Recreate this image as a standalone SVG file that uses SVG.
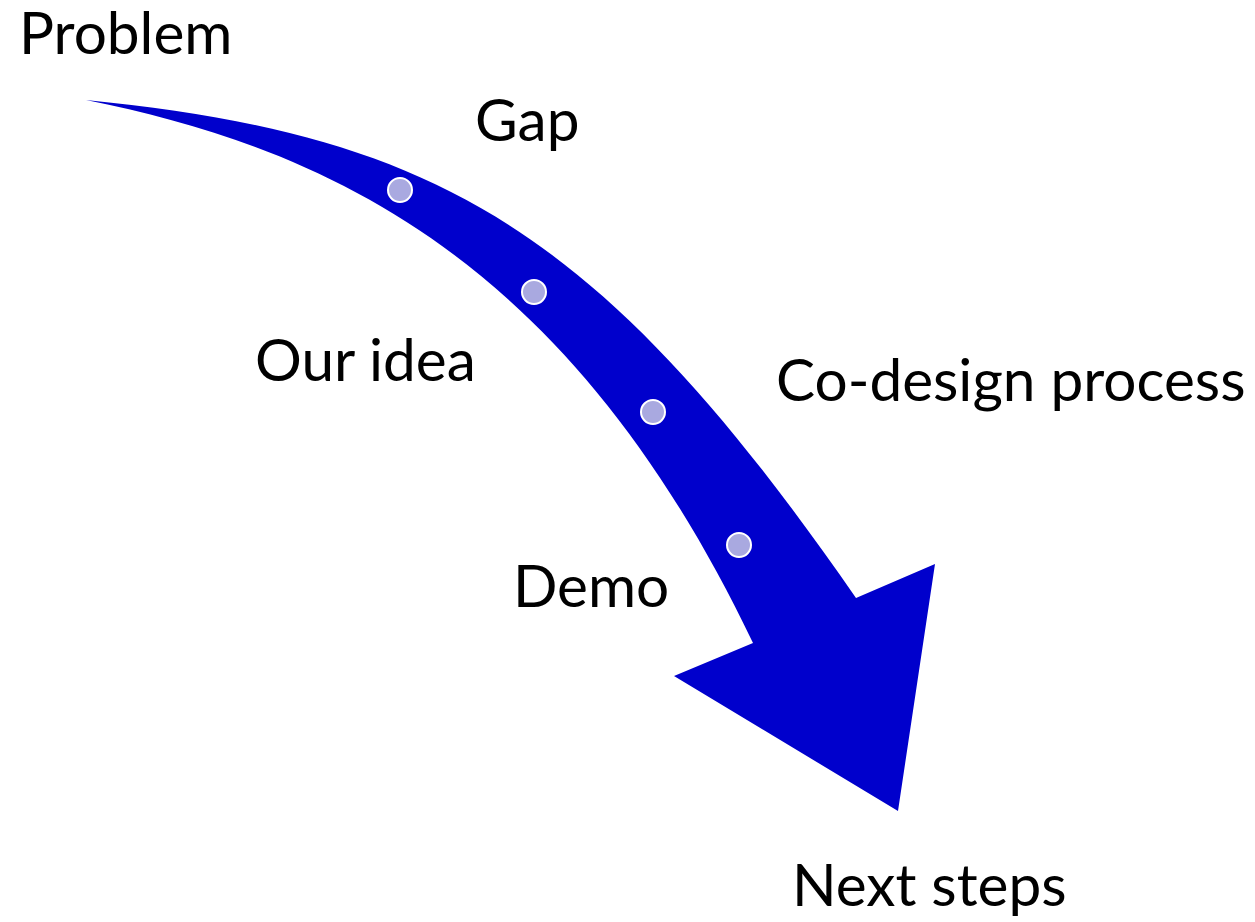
<svg xmlns="http://www.w3.org/2000/svg" width="1255" height="922" viewBox="0 0 1255 922">
  <style>
    .label { font-family: "Lato", "Liberation Sans", sans-serif; font-size: 58.5px; fill: #000000; }
    .arrow { fill: #0000CC; }
    .dot { fill: #A9A9E0; stroke: #FFFFFF; stroke-width: 2; }
  </style>
  <rect width="1255" height="922" fill="#FFFFFF"/>

  <!-- curved progress arrow: outer edge, head, then inner edge back to the tail -->
  <g id="connectors">
    <path id="journey-arrow" class="arrow" d="M86,100 C436,135 600,228 856,598 L935,564 L898,811 L674,676 L753,643 C572.4,265 336,150 86,100 Z"/>
  </g>

  <!-- milestone dots along the arrow -->
  <g id="milestones">
    <circle id="dot-1" class="dot" cx="400" cy="190" r="12"/>
    <circle id="dot-2" class="dot" cx="534" cy="292" r="12"/>
    <circle id="dot-3" class="dot" cx="653" cy="412" r="12"/>
    <circle id="dot-4" class="dot" cx="739" cy="545" r="12"/>
  </g>

  <g id="node-problem"><text class="label" x="19" y="54">Problem</text></g>
  <g id="node-gap"><text class="label" x="475" y="141">Gap</text></g>
  <g id="node-idea"><text class="label" x="255" y="381">Our idea</text></g>
  <g id="node-codesign"><text class="label" x="776" y="401">Co-design process</text></g>
  <g id="node-demo"><text class="label" x="513" y="607">Demo</text></g>
  <g id="node-next"><text class="label" x="792" y="906">Next steps</text></g>
</svg>
